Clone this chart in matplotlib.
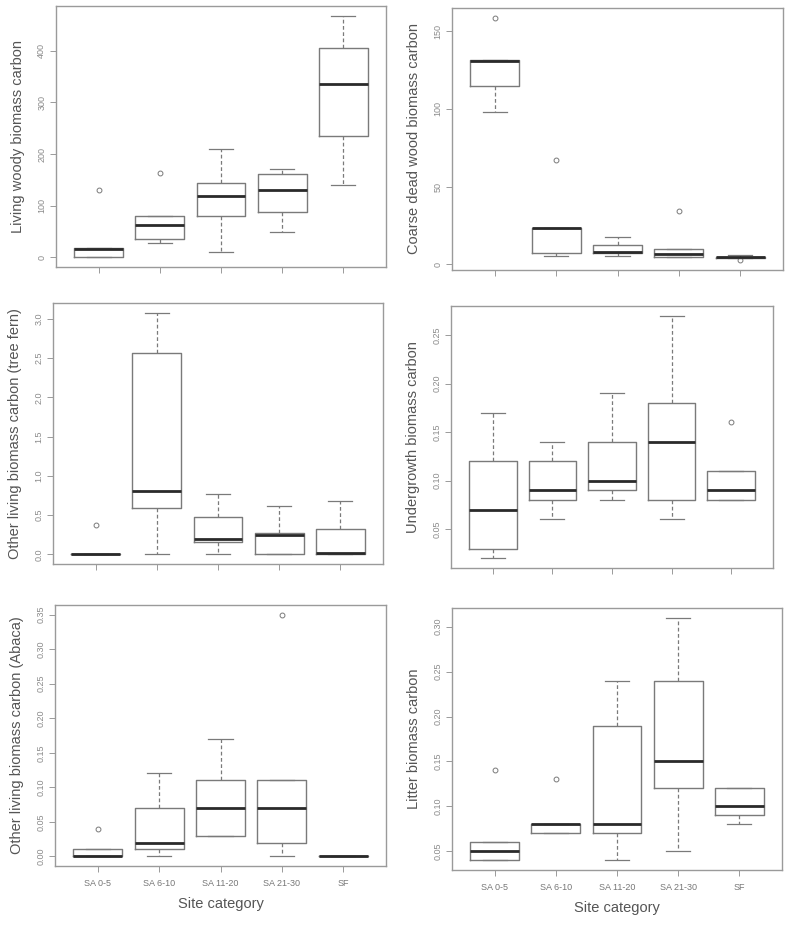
import matplotlib
matplotlib.use("Agg")
from matplotlib import pyplot as plt
from matplotlib.ticker import FormatStrFormatter

plt.rcParams['font.family'] = ['Liberation Sans', 'DejaVu Sans']

categories = ["SA 0-5", "SA 6-10", "SA 11-20", "SA 21-30", "SF"]

# each panel: whislo, q1, med, q3, whishi, fliers per category
woody_lo = [0, 28, 10, 49, 141]
woody_q1 = [0, 35, 80, 87, 235]
woody_med = [17, 62, 118, 131, 336]
woody_q3 = [18, 81, 143, 161, 405]
woody_hi = [18, 81, 210, 172, 468]
woody_out = [[131], [164], [], [], []]

cwd_lo = [98, 5.6, 5.5, 4.5, 4.0]
cwd_q1 = [115, 7.1, 7.1, 4.7, 4.0]
cwd_med = [131, 23.3, 8.0, 6.7, 4.5]
cwd_q3 = [131.4, 23.5, 12.3, 10.1, 4.8]
cwd_hi = [131.4, 23.5, 17.9, 10.1, 5.8]
cwd_out = [[158.6], [67.3], [], [34.3], [2.6]]

fern_lo = [0, 0, 0, 0, 0]
fern_q1 = [0, 0.59, 0.16, 0, 0]
fern_med = [0, 0.81, 0.19, 0.25, 0.015]
fern_q3 = [0, 2.56, 0.48, 0.27, 0.32]
fern_hi = [0, 3.08, 0.77, 0.61, 0.68]
fern_out = [[0.375], [], [], [], []]

under_lo = [0.02, 0.06, 0.08, 0.06, 0.08]
under_q1 = [0.03, 0.08, 0.09, 0.08, 0.08]
under_med = [0.07, 0.09, 0.10, 0.14, 0.09]
under_q3 = [0.12, 0.12, 0.14, 0.18, 0.11]
under_hi = [0.17, 0.14, 0.19, 0.27, 0.11]
under_out = [[], [], [], [], [0.16]]

abaca_lo = [0, 0, 0.03, 0, 0]
abaca_q1 = [0, 0.01, 0.03, 0.02, 0]
abaca_med = [0, 0.02, 0.07, 0.07, 0]
abaca_q3 = [0.01, 0.07, 0.11, 0.11, 0]
abaca_hi = [0.01, 0.12, 0.17, 0.11, 0]
abaca_out = [[0.04], [], [], [0.35], []]

litter_lo = [0.04, 0.07, 0.04, 0.05, 0.08]
litter_q1 = [0.04, 0.07, 0.07, 0.12, 0.09]
litter_med = [0.05, 0.08, 0.08, 0.15, 0.10]
litter_q3 = [0.06, 0.08, 0.19, 0.24, 0.12]
litter_hi = [0.06, 0.08, 0.24, 0.31, 0.12]
litter_out = [[0.14], [0.13], [], [], []]

panels = [
    ("Living woody biomass carbon", woody_lo, woody_q1, woody_med, woody_q3, woody_hi, woody_out,
     [0, 100, 200, 300, 400], "%d", (56, 6, 386, 267)),
    ("Coarse dead wood biomass carbon", cwd_lo, cwd_q1, cwd_med, cwd_q3, cwd_hi, cwd_out,
     [0, 50, 100, 150], "%d", (452, 8, 783, 270)),
    ("Other living biomass carbon (tree fern)", fern_lo, fern_q1, fern_med, fern_q3, fern_hi, fern_out,
     [0, 0.5, 1.0, 1.5, 2.0, 2.5, 3.0], "%.1f", (53, 303, 383, 564)),
    ("Undergrowth biomass carbon", under_lo, under_q1, under_med, under_q3, under_hi, under_out,
     [0.05, 0.10, 0.15, 0.20, 0.25], "%.2f", (451, 306, 773, 568)),
    ("Other living biomass carbon (Abaca)", abaca_lo, abaca_q1, abaca_med, abaca_q3, abaca_hi, abaca_out,
     [0, 0.05, 0.10, 0.15, 0.20, 0.25, 0.30, 0.35], "%.2f", (55, 605, 386, 866)),
    ("Litter biomass carbon", litter_lo, litter_q1, litter_med, litter_q3, litter_hi, litter_out,
     [0.05, 0.10, 0.15, 0.20, 0.25, 0.30], "%.2f", (452, 608, 782, 870)),
]

W, H = 787, 940
fig = plt.figure(figsize=(W / 100, H / 100), dpi=100)

line_col = "#7a7a7a"
frame_col = "#9a9a9a"
text_col = "#8a8a8a"

for i, (ylabel, lo, q1, med, q3, hi, out, yticks, fmt, box) in enumerate(panels):
    x0, y0, x1, y1 = box
    ax = fig.add_axes([x0 / W, 1 - y1 / H, (x1 - x0) / W, (y1 - y0) / H])
    stats = []
    for k in range(len(categories)):
        stats.append(dict(whislo=lo[k], q1=q1[k], med=med[k], q3=q3[k], whishi=hi[k],
                          fliers=out[k], label=categories[k]))
    ax.bxp(stats, positions=range(1, 6), widths=0.8, showfliers=True,
           boxprops=dict(color=line_col, linewidth=1.0),
           medianprops=dict(color="#2a2a2a", linewidth=2.0, solid_capstyle="butt"),
           whiskerprops=dict(color=line_col, linewidth=0.9, linestyle=(0, (3, 2))),
           capprops=dict(color=line_col, linewidth=0.9),
           flierprops=dict(marker="o", markersize=3.5, markerfacecolor="none",
                           markeredgecolor=line_col, markeredgewidth=0.7),
           capwidths=0.4)
    vals = lo + hi + [v for o in out for v in o]
    vmin, vmax = min(vals), max(vals)
    pad = (vmax - vmin) * 0.04
    ax.set_ylim(vmin - pad, vmax + pad)
    ax.set_xlim(0.5 - 0.2, 5.5 + 0.2)
    ax.set_yticks(yticks)
    ax.yaxis.set_major_formatter(FormatStrFormatter(fmt))
    ax.set_ylabel(ylabel, fontsize=10.5, color="#555555", labelpad=9)
    for s in ax.spines.values():
        s.set_color(frame_col)
        s.set_linewidth(1.0)
    ax.tick_params(axis="y", labelrotation=90, labelsize=6.5, colors=frame_col,
                   labelcolor=text_col, length=4, width=0.7, pad=3)
    for lab in ax.get_yticklabels():
        lab.set_verticalalignment("center")
    ax.tick_params(axis="x", labelsize=6.5, colors=frame_col, labelcolor="#777777",
                   length=4, width=0.7, pad=5)
    if i >= 4:
        ax.set_xticks(range(1, 6))
        ax.set_xticklabels(categories)
        ax.set_xlabel("Site category", fontsize=10.5, color="#555555", labelpad=7)
    else:
        ax.set_xticks(range(1, 6))
        ax.set_xticklabels([])

fig.savefig("out.png", dpi=100, facecolor="white")
